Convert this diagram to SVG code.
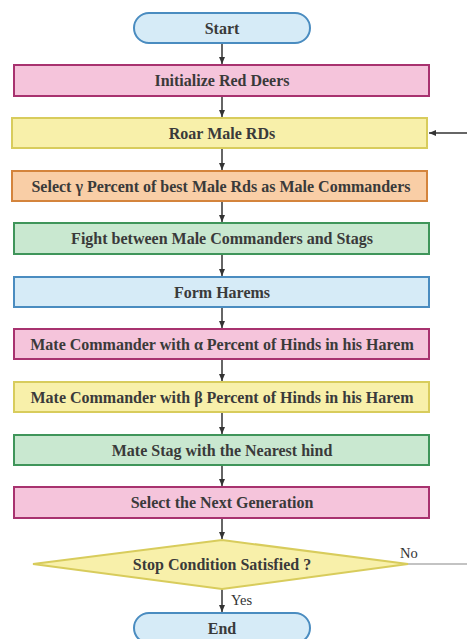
<svg xmlns="http://www.w3.org/2000/svg" width="467" height="639" viewBox="0 0 467 639">
<defs>
<marker id="ah" markerWidth="8" markerHeight="8" refX="7" refY="4" orient="auto" markerUnits="userSpaceOnUse">
<path d="M0,1 L7,4 L0,7 Z" fill="#333"/>
</marker>
<style>
.t{font-family:'Liberation Serif','DejaVu Serif','Times New Roman',serif;font-size:16px;font-weight:bold;fill:#3a3a3a;text-anchor:middle}
.l{font-family:'Liberation Serif','DejaVu Serif','Times New Roman',serif;font-size:14.5px;fill:#333}
.pink{fill:#f5c4db;stroke:#a8326f;stroke-width:2}
.yel{fill:#f8f0aa;stroke:#d8cc5c;stroke-width:2}
.ora{fill:#f9cea6;stroke:#d4843c;stroke-width:2}
.grn{fill:#c9e8d0;stroke:#3f955a;stroke-width:2}
.blu{fill:#d6ebf7;stroke:#4a8cc0;stroke-width:2}
.c{stroke:#333;stroke-width:1.5;fill:none}
.g{stroke:#888;stroke-width:1.2;fill:none}
</style>
</defs>
<rect width="467" height="639" fill="#fff"/>
<g id="connectors">
<line class="c" x1="222" y1="43" x2="222" y2="64" marker-end="url(#ah)"/>
<line class="c" x1="222" y1="96" x2="222" y2="117" marker-end="url(#ah)"/>
<line class="c" x1="222" y1="148" x2="222" y2="170" marker-end="url(#ah)"/>
<line class="c" x1="222" y1="201" x2="222" y2="222" marker-end="url(#ah)"/>
<line class="c" x1="222" y1="254" x2="222" y2="276" marker-end="url(#ah)"/>
<line class="c" x1="222" y1="307" x2="222" y2="328" marker-end="url(#ah)"/>
<line class="c" x1="222" y1="359" x2="222" y2="381" marker-end="url(#ah)"/>
<line class="c" x1="222" y1="412" x2="222" y2="434" marker-end="url(#ah)"/>
<line class="c" x1="222" y1="465" x2="222" y2="486" marker-end="url(#ah)"/>
<line class="c" x1="222" y1="518" x2="222" y2="539" marker-end="url(#ah)"/>
<line class="c" x1="222" y1="589" x2="222" y2="612" marker-end="url(#ah)"/>
<line class="g" x1="408" y1="564" x2="467" y2="564"/>
<line class="c" x1="467" y1="133" x2="429" y2="133" marker-end="url(#ah)"/>
<text class="l" x="400" y="558">No</text>
<text class="l" x="231" y="605">Yes</text>
</g>
<g id="start"><rect class="blu" x="134" y="13" width="176" height="30" rx="15"/><text class="t" x="222" y="33.5">Start</text></g>
<g id="init"><rect class="pink" x="14" y="65" width="415" height="31"/><text class="t" x="222" y="86">Initialize Red Deers</text></g>
<g id="roar"><rect class="yel" x="12" y="118" width="415" height="30"/><text class="t" x="222" y="138.5">Roar Male RDs</text></g>
<g id="select"><rect class="ora" x="12" y="171" width="415" height="30"/><text class="t" x="221" y="191.5">Select γ Percent of best Male Rds as Male Commanders</text></g>
<g id="fight"><rect class="grn" x="14" y="223" width="415" height="31"/><text class="t" x="222" y="244">Fight between Male Commanders and Stags</text></g>
<g id="harems"><rect class="blu" x="14" y="277" width="415" height="30"/><text class="t" x="222" y="297.5">Form Harems</text></g>
<g id="alpha"><rect class="pink" x="14" y="329" width="415" height="30"/><text class="t" x="222" y="349.5">Mate Commander with α Percent of Hinds in his Harem</text></g>
<g id="beta"><rect class="yel" x="14" y="382" width="415" height="30"/><text class="t" x="222" y="402.5">Mate Commander with β Percent of Hinds in his Harem</text></g>
<g id="stag"><rect class="grn" x="14" y="435" width="415" height="30"/><text class="t" x="222" y="455.5">Mate Stag with the Nearest hind</text></g>
<g id="next"><rect class="pink" x="14" y="487" width="415" height="31"/><text class="t" x="222" y="508">Select the Next Generation</text></g>
<g id="stop"><polygon class="yel" points="222,540 408,564 222,589 33,564"/><text class="t" x="222" y="569.5">Stop Condition Satisfied ?</text></g>
<g id="end"><rect class="blu" x="134" y="613" width="176" height="30" rx="15"/><text class="t" x="222" y="633.5">End</text></g>
</svg>
